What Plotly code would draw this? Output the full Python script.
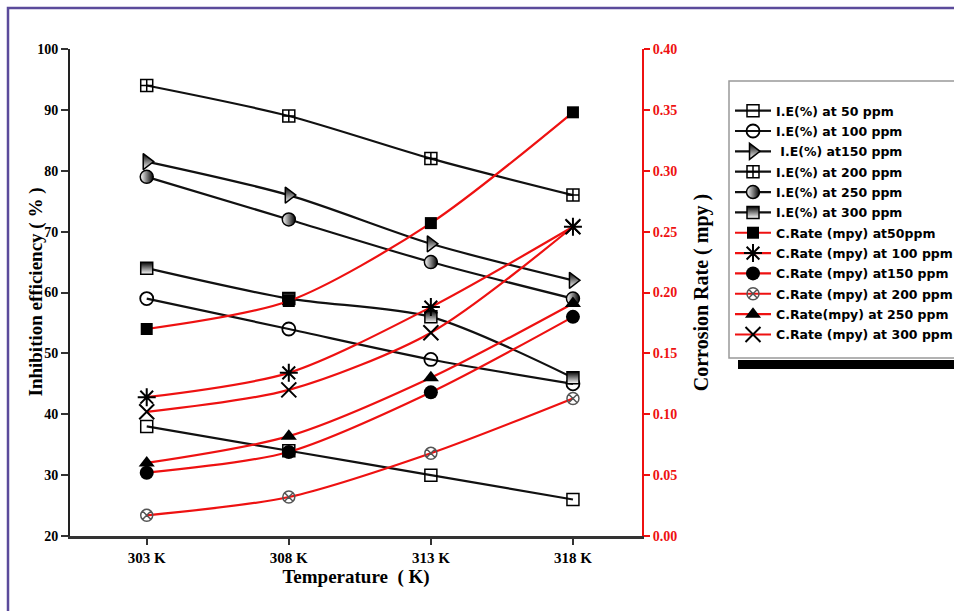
import plotly.graph_objects as go

temps = ["303 K", "308 K", "313 K", "318 K"]

ie_50 = [38, 34, 30, 26]
ie_100 = [59, 54, 49, 45]
ie_150 = [81.5, 76, 68, 62]
ie_200 = [94, 89, 82, 76]
ie_250 = [79, 72, 65, 59]
ie_300 = [64, 59, 56, 46]

cr_50 = [0.170, 0.193, 0.257, 0.348]
cr_100 = [0.114, 0.134, 0.188, 0.254]
cr_150 = [0.052, 0.069, 0.118, 0.180]
cr_200 = [0.017, 0.032, 0.068, 0.113]
cr_250 = [0.060, 0.082, 0.130, 0.191]
cr_300 = [0.102, 0.120, 0.167, 0.254]

ie_names = ["I.E(%) at 50 ppm", "I.E(%) at 100 ppm", " I.E(%) at150 ppm",
            "I.E(%) at 200 ppm", "I.E(%) at 250 ppm", "I.E(%) at 300 ppm"]
cr_names = ["C.Rate (mpy) at50ppm", "C.Rate (mpy) at 100 ppm", "C.Rate (mpy) at150 ppm",
            "C.Rate (mpy) at 200 ppm", "C.Rate(mpy) at 250 ppm", "C.Rate (mpy) at 300 ppm"]

serif = "Liberation Serif, Times New Roman, serif"
sans = "DejaVu Sans, Arial, sans-serif"

fig = go.Figure()

ie_markers = [
    dict(symbol="square-open", size=12, color="black", line=dict(width=1.5, color="black")),
    dict(symbol="circle-open", size=13, color="black", line=dict(width=1.8, color="black")),
    dict(symbol="triangle-right", size=14, color="black",
         gradient=dict(type="vertical", color="white"), line=dict(width=1.5, color="black")),
    dict(symbol="square-cross-open", size=12, color="black", line=dict(width=1.5, color="black")),
    dict(symbol="circle", size=13, color="white",
         gradient=dict(type="horizontal", color="black"), line=dict(width=1.5, color="black")),
    dict(symbol="square", size=12, color="black",
         gradient=dict(type="vertical", color="white"), line=dict(width=1.5, color="black")),
]
ie_data = [ie_50, ie_100, ie_150, ie_200, ie_250, ie_300]
for i, (name, vals, mk) in enumerate(zip(ie_names, ie_data, ie_markers)):
    fig.add_trace(go.Scatter(
        x=temps, y=vals, name=name, mode="lines+markers", legendgroup=f"ie{i}",
        line=dict(color="#111111", width=2.2, shape="spline", smoothing=0.8),
        marker=mk, yaxis="y", xaxis="x"))

cr_markers = [
    dict(symbol="square", size=12, color="black"),
    dict(symbol="asterisk-open", size=15, color="black", line=dict(width=2, color="black")),
    dict(symbol="circle", size=14, color="black"),
    dict(symbol="circle-x-open", size=12, color="#555555", line=dict(width=1.5, color="#555555")),
    dict(symbol="triangle-up", size=14, color="black"),
    dict(symbol="x-thin-open", size=15, color="black", line=dict(width=2, color="black")),
]
cr_data = [cr_50, cr_100, cr_150, cr_200, cr_250, cr_300]
for i, (name, vals, mk) in enumerate(zip(cr_names, cr_data, cr_markers)):
    fig.add_trace(go.Scatter(
        x=temps, y=vals, name=name, mode="lines+markers", legendgroup=f"cr{i}",
        line=dict(color="#ee1111", width=2.2, shape="spline", smoothing=0.8),
        marker=mk, yaxis="y2", xaxis="x"))

W, H = 954, 611
L, R, T, B = 70, 312, 49, 75
pw, ph = W - L - R, H - T - B


def px(x):
    return (x - L) / pw


def py(y):
    return (H - B - y) / ph


xr = [-0.54, 3.486]
title_font = dict(family=serif, size=19, color="black", weight="bold")

fig.update_layout(
    width=W, height=H,
    margin=dict(l=L, r=R, t=T, b=B, autoexpand=False),
    paper_bgcolor="white", plot_bgcolor="white",
    xaxis=dict(
        type="category", categoryorder="array", categoryarray=temps,
        range=xr, showgrid=False, zeroline=False,
        showline=True, linecolor="#333333", linewidth=2.5,
        ticks="outside", ticklen=6, tickwidth=1.5, tickcolor="#333333",
        tickfont=dict(family=serif, size=15, color="black", weight="bold"),
        title=dict(text="Temperature\u00a0 ( K)", font=title_font, standoff=4),
    ),
    xaxis2=dict(
        overlaying="x", side="top", range=xr, showgrid=False, zeroline=False,
        showline=True, linecolor="#666666", linewidth=2.5,
        ticks="inside", ticklen=7, tickwidth=1.5, tickcolor="#555555",
        tickvals=[0, 1, 2, 3], showticklabels=False,
    ),
    yaxis=dict(
        range=[20, 100], dtick=10, showgrid=False, zeroline=False,
        showline=True, linecolor="#222222", linewidth=2,
        ticks="outside", ticklen=7, tickwidth=1.5, tickcolor="#333333",
        tickfont=dict(family=serif, size=14, color="black", weight="bold"),
    ),
    yaxis2=dict(
        overlaying="y", side="right", anchor="x",
        range=[0, 0.40], dtick=0.05, tickformat=".2f", showgrid=False, zeroline=False,
        showline=True, linecolor="#ee1111", linewidth=2,
        ticks="outside", ticklen=6, tickwidth=1.5, tickcolor="#ee1111",
        tickfont=dict(family=serif, size=14, color="#ee1111", weight="bold"),
        title=dict(text="Corrosion Rate ( mpy )", font=dict(family=serif, size=20, color="black", weight="bold"), standoff=18),
    ),
    legend=dict(
        x=px(730), y=py(96), xanchor="left", yanchor="top",
        bgcolor="rgba(0,0,0,0)", borderwidth=0,
        font=dict(family=sans, size=12.5, color="black", weight="bold"),
        itemwidth=36, traceorder="grouped", tracegroupgap=1.1,
    ),
    annotations=[
        dict(text="Inhibition efficiency ( % )", xref="paper", yref="paper",
             x=px(35), y=0.5, textangle=-90, showarrow=False,
             xanchor="center", yanchor="middle", font=title_font),
    ],
    shapes=[
        dict(type="rect", xref="paper", yref="paper",
             x0=px(8), x1=px(970), y0=py(8), y1=py(640),
             line=dict(color="#5b4b9b", width=2.5), fillcolor="rgba(0,0,0,0)", layer="below"),
        dict(type="rect", xref="paper", yref="paper",
             x0=px(729), x1=px(970), y0=py(81), y1=py(358),
             line=dict(color="#999999", width=1.5), fillcolor="white", layer="below"),
        dict(type="rect", xref="paper", yref="paper",
             x0=px(738), x1=px(970), y0=py(360), y1=py(369),
             line=dict(width=0), fillcolor="black"),
    ],
)

fig.write_html("out.html")
